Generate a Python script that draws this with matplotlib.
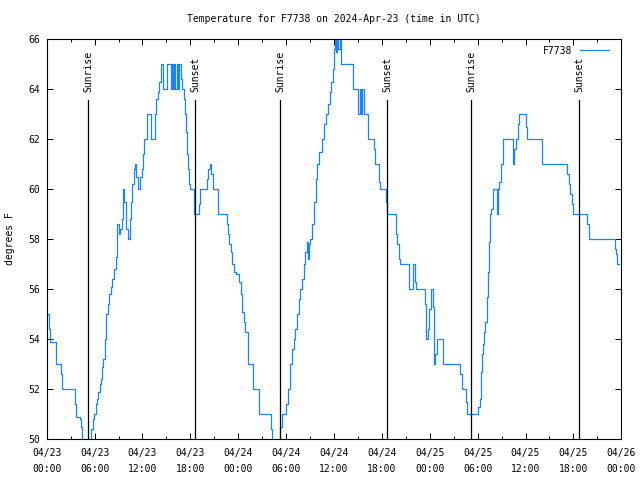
import matplotlib
matplotlib.use("Agg")
import matplotlib.pyplot as plt
from matplotlib.ticker import FixedLocator, MultipleLocator

# ---- data (hours since 2024-04-23 00:00 UTC, temperature in degrees F) ----
hours = [
    0.00, 0.25, 0.41, 1.12, 1.75, 1.96, 3.50, 3.63, 4.13, 4.26, 4.47,
    5.55, 5.84, 5.93, 6.14, 6.35, 6.47, 6.64, 6.76, 6.97, 7.10, 7.26, 7.39,
    7.47, 7.68, 7.81, 8.02, 8.23, 8.43, 8.64, 8.77, 8.85, 9.02, 9.19, 9.48,
    9.52, 9.60, 9.73, 9.94, 10.15, 10.44, 10.52, 10.65, 10.94, 11.02, 11.19,
    11.48, 11.69, 11.90, 12.02, 12.19, 12.53, 13.07, 13.53, 13.65, 13.74,
    13.90, 14.07, 14.32, 14.53, 15.03, 15.53, 15.74, 15.87, 16.00, 16.12,
    16.33, 16.45, 16.62, 16.83, 17.00, 17.16, 17.33, 17.45, 17.54, 17.66,
    17.87, 17.96, 18.46, 18.50, 19.13, 19.25, 20.04, 20.17, 20.46, 20.63,
    20.84, 21.46, 22.63, 22.72, 22.88, 23.05, 23.18, 23.47, 23.72, 24.05,
    24.30, 24.47, 24.72, 24.89, 25.18, 25.89, 26.56, 28.06, 28.19, 29.28,
    29.44, 29.99, 30.19, 30.49, 30.70, 30.99, 31.16, 31.32, 31.57, 31.78,
    32.03, 32.24, 32.41, 32.58, 32.70, 32.87, 33.03, 33.29, 33.54, 33.74,
    33.91, 34.16, 34.46, 34.75, 35.00, 35.25, 35.50, 35.62, 35.92, 36.00,
    36.10, 36.30, 36.40, 36.55, 36.70, 36.92, 38.34, 38.97, 39.22, 39.34,
    39.51, 39.72, 40.26, 40.97, 41.18, 41.60, 41.81, 42.56, 42.68, 43.81,
    43.94, 44.15, 44.23, 45.36, 45.45, 45.95, 46.19, 46.30, 47.45, 47.58,
    47.75, 47.95, 48.15, 48.42, 48.58, 48.70, 48.90, 49.62, 51.80, 51.98,
    52.50, 52.62, 54.10, 54.25, 54.42, 54.55, 54.71, 54.84, 54.96, 55.13,
    55.21, 55.34, 55.42, 55.55, 55.72, 55.97, 56.40, 56.55, 56.68, 56.89,
    57.18, 58.43, 58.56, 58.77, 59.06, 59.22, 60.02, 60.14, 62.11, 65.24,
    65.41, 65.57, 65.82, 65.99, 67.75, 67.96, 71.21, 71.34, 71.51, 71.71,
]
temps = [
    55.0, 54.4, 53.9, 53.0, 52.6, 52.0, 51.4, 50.9, 50.8, 50.5, 49.5,
    50.4, 50.8, 51.0, 51.4, 51.6, 51.9, 52.2, 52.4, 52.9, 53.2, 54.0, 54.6,
    55.0, 55.4, 55.8, 56.1, 56.4, 56.8, 57.3, 58.0, 58.6, 58.2, 58.4, 58.8,
    59.5, 60.0, 59.5, 58.4, 58.0, 58.8, 59.5, 60.2, 60.8, 61.0, 60.5,
    60.0, 60.5, 60.8, 61.4, 62.0, 63.0, 62.0, 63.0, 63.2, 63.6,
    63.9, 64.3, 65.0, 64.0, 65.0, 64.0, 65.0, 64.0, 65.0, 64.0,
    65.0, 64.0, 65.0, 64.4, 64.0, 63.6, 63.0, 62.3, 61.4, 60.8,
    60.2, 60.0, 59.5, 59.0, 59.4, 60.0, 60.4, 60.8, 61.0, 60.6,
    60.0, 59.0, 58.6, 58.2, 57.8, 57.5, 57.0, 56.7, 56.6, 56.3,
    55.8, 55.1, 54.7, 54.3, 53.0, 52.0, 51.0, 50.4, 49.5, 50.5,
    51.0, 51.4, 52.0, 53.0, 53.6, 54.0, 54.4, 55.0, 55.6, 56.0,
    56.4, 57.0, 57.5, 57.9, 57.2, 57.8, 58.0, 58.6, 59.5, 60.4,
    61.0, 61.5, 62.0, 62.6, 63.0, 63.4, 63.9, 64.3, 64.8, 65.6,
    66.0, 65.5, 66.0, 65.6, 66.0, 65.0, 64.0, 63.0, 64.0, 63.0,
    64.0, 63.0, 62.0, 61.6, 61.0, 60.3, 60.0, 59.5, 59.0, 58.2,
    57.8, 57.2, 57.0, 56.3, 56.0, 57.0, 56.3, 56.0, 55.4, 54.0,
    54.4, 55.2, 56.0, 55.3, 53.0, 53.4, 54.0, 53.0, 52.6, 52.0,
    51.5, 51.0, 51.3, 51.6, 52.7, 53.4, 53.8, 54.3, 54.7, 55.2,
    55.7, 56.7, 57.9, 59.0, 59.2, 60.0, 59.0, 60.0, 60.3, 61.0,
    62.0, 61.0, 61.6, 62.0, 62.6, 63.0, 62.5, 62.0, 61.0, 60.6,
    60.2, 59.8, 59.4, 59.0, 58.6, 58.0, 57.6, 57.4, 57.0, 57.0,
]
series_name = "F7738"

sunrise_hours = [5.23, 29.25, 53.20]
sunset_hours = [18.58, 42.64, 66.70]

x_tick_hours = [0, 6, 12, 18, 24, 30, 36, 42, 48, 54, 60, 66, 72]
x_tick_labels = ["04/23\n00:00", "04/23\n06:00", "04/23\n12:00", "04/23\n18:00",
                 "04/24\n00:00", "04/24\n06:00", "04/24\n12:00", "04/24\n18:00",
                 "04/25\n00:00", "04/25\n06:00", "04/25\n12:00", "04/25\n18:00",
                 "04/26\n00:00"]
y_ticks = [50, 52, 54, 56, 58, 60, 62, 64, 66]

title = "Temperature for F7738 on 2024-Apr-23 (time in UTC)"
ylabel = "degrees F"

# ---- style ----
plt.rcParams['font.family'] = ['DejaVu Sans Mono']
FS = 7
LINE_COLOR = '#1a82ff'

fig = plt.figure(figsize=(6.4, 4.8), dpi=100)
ax = fig.add_axes([46.7 / 640, 1 - 439 / 480, (621.3 - 46.7) / 640, 400 / 480])

ax.plot(hours, temps, drawstyle='steps-post', color=LINE_COLOR, lw=0.9,
        label=series_name)

marker_top = 63.57
for h in sunrise_hours:
    ax.plot([h, h], [50, marker_top], color='black', lw=0.9)
    ax.text(h, marker_top + 0.3, "Sunrise", rotation=90, ha='center', va='bottom',
            fontsize=FS)
for h in sunset_hours:
    ax.plot([h, h], [50, marker_top], color='black', lw=0.9)
    ax.text(h, marker_top + 0.3, "Sunset", rotation=90, ha='center', va='bottom',
            fontsize=FS)

ax.set_xlim(0, 72)
ax.set_ylim(50, 66)
ax.xaxis.set_major_locator(FixedLocator(x_tick_hours))
ax.set_xticklabels(x_tick_labels, linespacing=1.75)
ax.xaxis.set_minor_locator(MultipleLocator(3))
ax.set_yticks(y_ticks)
ax.set_yticklabels([str(v) for v in y_ticks])

ax.tick_params(axis='both', which='major', direction='in', length=4.5, width=0.7,
               top=True, right=True, labelsize=FS, pad=5)
ax.tick_params(axis='x', which='major', pad=6.5)
ax.tick_params(axis='x', which='minor', direction='in', length=2.5, width=0.7,
               top=True, bottom=True)
for sp in ax.spines.values():
    sp.set_linewidth(0.8)

ax.set_ylabel(ylabel, fontsize=FS)
ax.yaxis.label.set_verticalalignment('center')
ax.yaxis.set_label_coords(-(46.7 - 10) / 574.6, 0.5)

fig.text(334 / 640, 1 - 19 / 480, title, ha='center', va='center', fontsize=FS)

ax.legend(loc='upper right', frameon=False, fontsize=FS, markerfirst=False,
          handlelength=3.0, borderaxespad=0.3, handletextpad=0.8,
          bbox_to_anchor=(0.99, 1.0))

fig.savefig("out.png", dpi=100)
